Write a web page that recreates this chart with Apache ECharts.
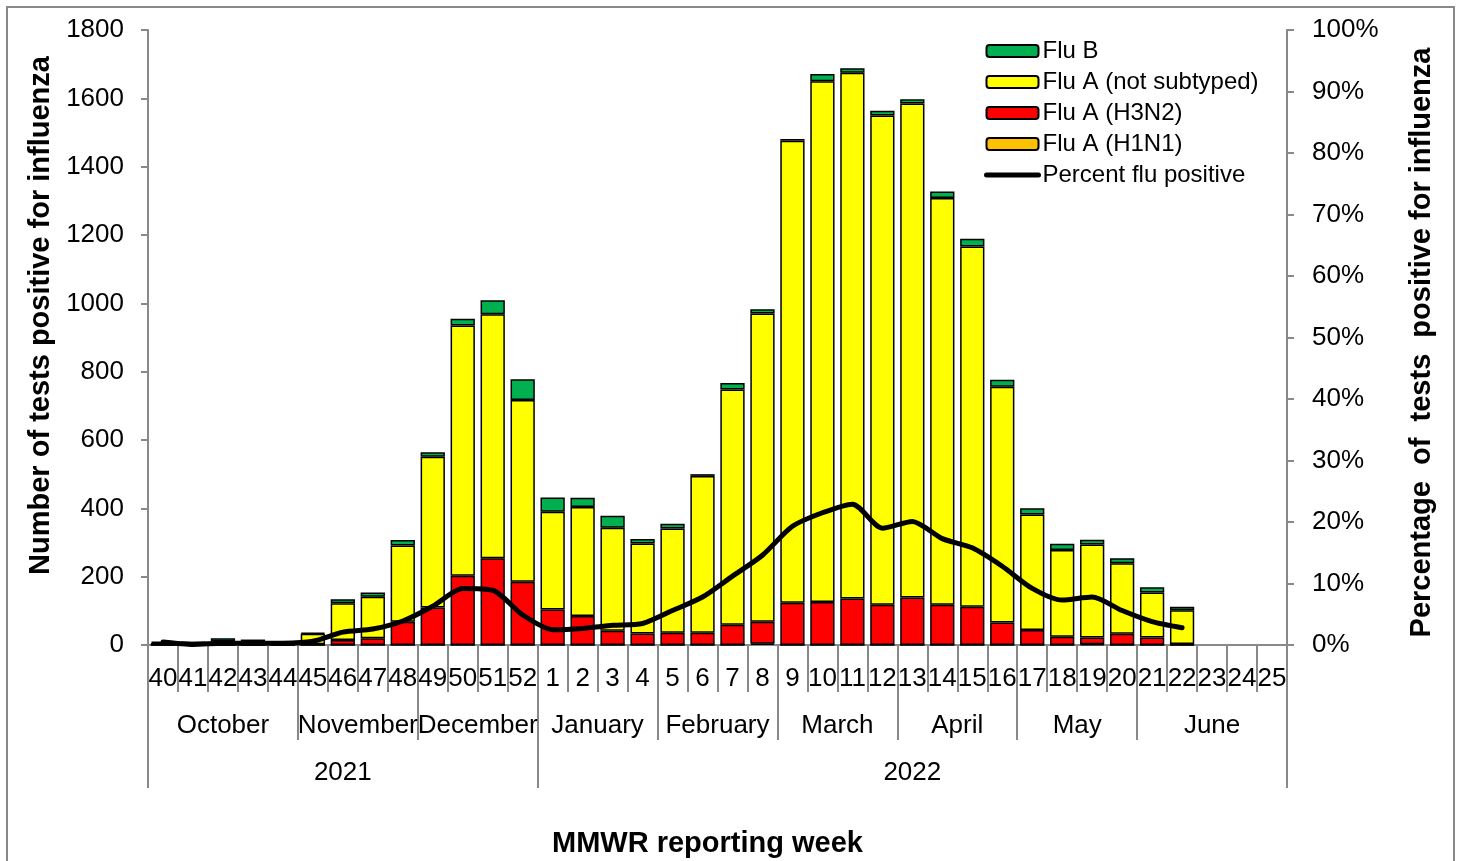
<html><head>
<meta charset="UTF-8">
<title>Influenza positive tests by MMWR week</title>
<style>
  body { margin: 0; background: #fff; }
  #chart { width: 1461px; height: 861px; }
</style>
</head>
<body>
<div id="chart"></div>
<script src="https://cdn.jsdelivr.net/npm/echarts@6/dist/echarts.min.js"></script>
<script>
  // weeks 40-52 of 2021, then 1-25 of 2022
  const weeks = ['40','41','42','43','44','45','46','47','48','49','50','51','52',
    '1','2','3','4','5','6','7','8','9','10','11','12','13','14','15','16','17','18','19','20','21','22','23','24','25'];

  const fluAH1N1 = [0,0,0,0,0,0,0,0,0,0,0,0,0, 0,0,0,0,0,0,0,4,0,0,0,0,0,0,0,0,0,0,2,0,0,0, null,null,null];
  const fluAH3N2 = [0,0,0,0,0,2,15,20,68,110,203,254,185, 104,85,42,34,36,36,59,64,124,126,136,118,139,118,112,66,44,24,20,33,22,3, null,null,null];
  const fluANotSub = [6,4,10,8,5,31,107,121,223,441,732,714,532, 286,319,301,263,305,459,689,902,1352,1524,1539,1432,1446,1190,1054,690,338,254,272,206,132,99, null,null,null];
  const fluB = [4,6,10,8,3,3,12,13,16,13,20,41,61, 42,27,35,13,14,5,19,13,5,21,13,14,12,19,23,20,18,18,14,15,15,10, null,null,null];
  const pctPositive = [0.5,0.1,0.3,0.3,0.3,0.6,2.1,2.6,3.9,6.3,9.2,8.9,4.9, 2.5,2.7,3.2,3.5,5.6,7.8,11.2,14.6,19.3,21.5,22.9,19.0,20.1,17.3,15.8,12.8,9.2,7.3,7.8,5.6,3.8,2.8, null,null,null];

  // month groups: name and index of the first week in each
  const monthNames = ['October','November','December','January','February','March','April','May','June'];
  const monthStarts = [0,5,9,13,17,21,25,29,33];
  const yearNames = ['2021','2022'];
  const yearStarts = [0,13];

  const nWeeks = weeks.length;
  const monthEdges = monthStarts.concat([nWeeks]);
  const monthCenters = monthNames.map((m, i) => (monthEdges[i] + monthEdges[i + 1]) / 2);
  const yearEdges = yearStarts.concat([nWeeks]);
  const yearCenters = yearNames.map((y, i) => (yearEdges[i] + yearEdges[i + 1]) / 2);

  const FONT = "'Liberation Sans', Arial, sans-serif";
  const GRAY = '#898989';

  const chart = echarts.init(document.getElementById('chart'));

  function barSeries(name, data, color) {
    return {
      name: name,
      type: 'bar',
      stack: 'flu',
      data: data,
      barWidth: '81%',
      itemStyle: { color: color, borderColor: '#000', borderWidth: 1.5 },
      xAxisIndex: 0,
      yAxisIndex: 0
    };
  }

  const tickLabel = { fontSize: 26, color: '#000', fontFamily: FONT };
  const axisName = { fontSize: 29, fontWeight: 'bold', color: '#000', fontFamily: FONT };

  const option = {
    animation: false,
    textStyle: { fontFamily: FONT, color: '#000' },
    graphic: [{
      type: 'rect',
      shape: { x: 7, y: 7, width: 1447, height: 900 },
      style: { fill: 'none', stroke: GRAY, lineWidth: 2 },
      silent: true
    }],
    grid: { left: 148, right: 174, top: 30, bottom: 216, outerBoundsMode: 'none', containLabel: false },
    legend: {
      orient: 'vertical',
      left: 979,
      top: 34,
      itemWidth: 52,
      itemHeight: 12,
      itemGap: 7,
      textStyle: { fontSize: 24, color: '#000', fontFamily: FONT, lineHeight: 24, padding: [0, 0, 0, -1] },
      data: [
        'Flu B', 'Flu A (not subtyped)', 'Flu A (H3N2)', 'Flu A (H1N1)',
        { name: 'Percent flu positive', itemStyle: { opacity: 0 }, lineStyle: { width: 5, color: '#000', cap: 'round' } }
      ]
    },
    xAxis: [
      {
        type: 'category',
        data: weeks,
        position: 'bottom',
        boundaryGap: true,
        axisLine: { onZero: false, lineStyle: { color: GRAY, width: 2 } },
        axisTick: { show: true, interval: 0, length: 47, lineStyle: { color: GRAY, width: 2 } },
        axisLabel: Object.assign({ interval: 0, margin: 21 }, tickLabel)
      },
      {
        type: 'value',
        position: 'bottom',
        min: 0,
        max: nWeeks,
        splitLine: { show: false },
        axisLine: { show: false, onZero: false },
        axisTick: { show: true, length: 95, customValues: monthEdges, lineStyle: { color: GRAY, width: 2 } },
        axisLabel: Object.assign({
          customValues: monthCenters,
          margin: 68,
          formatter: v => monthNames[monthCenters.indexOf(v)] || ''
        }, tickLabel)
      },
      {
        type: 'value',
        position: 'bottom',
        min: 0,
        max: nWeeks,
        splitLine: { show: false },
        axisLine: { show: false, onZero: false },
        axisTick: { show: true, length: 143, customValues: yearEdges, lineStyle: { color: GRAY, width: 2 } },
        axisLabel: Object.assign({
          customValues: yearCenters,
          margin: 115,
          formatter: v => yearNames[yearCenters.indexOf(v)] || ''
        }, tickLabel),
        name: 'MMWR reporting week',
        nameLocation: 'middle',
        nameGap: 184,
        nameTextStyle: Object.assign({ padding: [0, 20, 0, 0] }, axisName)
      }
    ],
    yAxis: [
      {
        type: 'value',
        position: 'left',
        min: 0,
        max: 1800,
        interval: 200,
        splitLine: { show: false },
        axisLine: { show: true, onZero: false, lineStyle: { color: GRAY, width: 2 } },
        axisTick: { show: true, length: 7, lineStyle: { color: GRAY, width: 2 } },
        axisLabel: Object.assign({ margin: 24, formatter: v => String(v) }, tickLabel),
        name: 'Number of tests positive for influenza',
        nameLocation: 'middle',
        nameRotate: 90,
        nameGap: 91,
        nameTextStyle: Object.assign({ padding: [0, 0, 0, 44] }, axisName)
      },
      {
        type: 'value',
        position: 'right',
        min: 0,
        max: 100,
        interval: 10,
        splitLine: { show: false },
        axisLine: { show: true, onZero: false, lineStyle: { color: GRAY, width: 2 } },
        axisTick: { show: true, length: 7, lineStyle: { color: GRAY, width: 2 } },
        axisLabel: Object.assign({ margin: 25, formatter: '{value}%' }, tickLabel),
        name: 'Percentage  of  tests  positive for influenza',
        nameLocation: 'middle',
        nameRotate: 90,
        nameGap: 120,
        nameTextStyle: Object.assign({ padding: [0, 10, 0, 0] }, axisName)
      }
    ],
    series: [
      barSeries('Flu A (H1N1)', fluAH1N1, '#FFC000'),
      barSeries('Flu A (H3N2)', fluAH3N2, '#FF0000'),
      barSeries('Flu A (not subtyped)', fluANotSub, '#FFFF00'),
      barSeries('Flu B', fluB, '#00B050'),
      {
        name: 'Percent flu positive',
        type: 'line',
        data: pctPositive,
        xAxisIndex: 0,
        yAxisIndex: 1,
        smooth: 0.25,
        symbol: 'none',
        showSymbol: false,
        lineStyle: { color: '#000', width: 5, cap: 'round' },
        itemStyle: { color: '#000' },
        z: 5
      }
    ]
  };

  chart.setOption(option);
</script>
</body></html>
